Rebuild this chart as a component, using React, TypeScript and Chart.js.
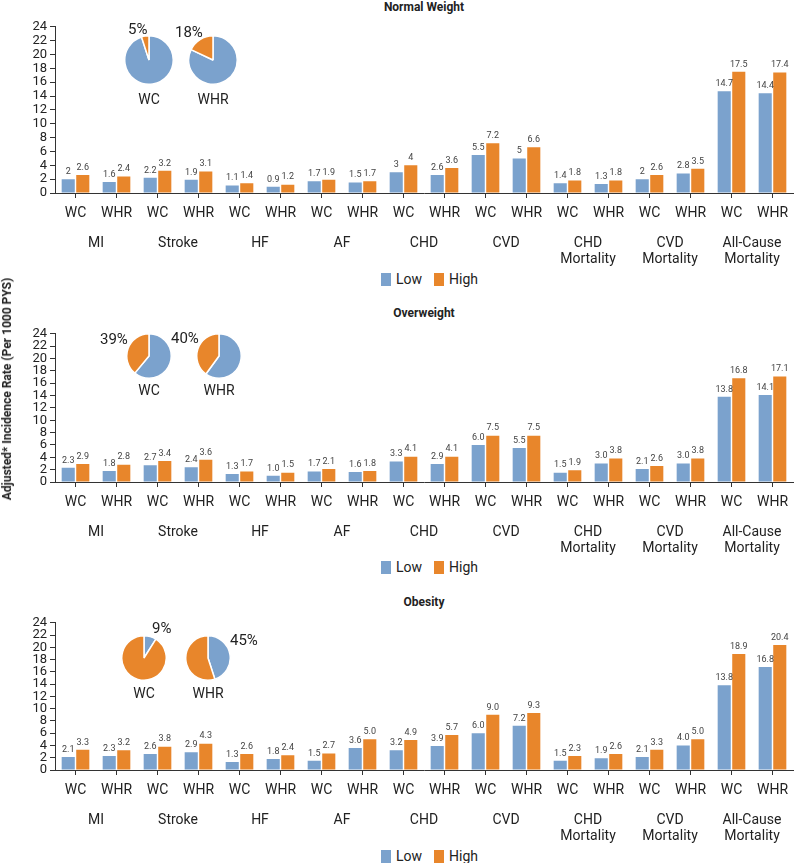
import React, { useEffect, useRef } from "react";
import { Chart, registerables } from "chart.js";
Chart.register(...registerables);

const subLabels = ["WC","WHR","WC","WHR","WC","WHR","WC","WHR","WC","WHR","WC","WHR","WC","WHR","WC","WHR","WC","WHR"];
const groups: (string | string[])[] = ["MI","Stroke","HF","AF","CHD","CVD",["CHD","Mortality"],["CVD","Mortality"],["All-Cause","Mortality"]];
const yTicks = [0,2,4,6,8,10,12,14,16,18,20,22,24];

const normalLow = [2,1.6,2.2,1.9,1.1,0.9,1.7,1.5,3,2.6,5.5,5,1.4,1.3,2,2.8,14.7,14.4];
const normalHigh = [2.6,2.4,3.2,3.1,1.4,1.2,1.9,1.7,4,3.6,7.2,6.6,1.8,1.8,2.6,3.5,17.5,17.4];
const overLow = [2.3,1.8,2.7,2.4,1.3,1.0,1.7,1.6,3.3,2.9,6.0,5.5,1.5,3.0,2.1,3.0,13.8,14.1];
const overHigh = [2.9,2.8,3.4,3.6,1.7,1.5,2.1,1.8,4.1,4.1,7.5,7.5,1.9,3.8,2.6,3.8,16.8,17.1];
const obLow = [2.1,2.3,2.6,2.9,1.3,1.8,1.5,3.6,3.2,3.9,6.0,7.2,1.5,1.9,2.1,4.0,13.8,16.8];
const obHigh = [3.3,3.2,3.8,4.3,2.6,2.4,2.7,5.0,4.9,5.7,9.0,9.3,2.3,2.6,3.3,5.0,18.9,20.4];

// pie shares [Low, High] in percent
const normalWCPie = [95, 5];
const normalWHRPie = [82, 18];
const overWCPie = [61, 39];
const overWHRPie = [60, 40];
const obWCPie = [9, 91];
const obWHRPie = [45, 55];

const BLUE = "#7ba2cd";
const ORANGE = "#e8862b";
const FONT = "Roboto, 'Noto Sans', sans-serif";
const TXT = "#222";

function BarPanel({ low, high, raw, top, height }: { low: number[]; high: number[]; raw: boolean; top: number; height: number }) {
  const ref = useRef<HTMLCanvasElement>(null);
  useEffect(() => {
    const labelsPlugin = {
      id: "vals",
      afterDatasetsDraw(chart: any) {
        const ctx = chart.ctx;
        ctx.save();
        ctx.font = `9px ${FONT}`;
        ctx.fillStyle = "#444";
        ctx.textAlign = "center";
        ctx.textBaseline = "bottom";
        chart.data.datasets.forEach((ds: any, di: number) => {
          chart.getDatasetMeta(di).data.forEach((el: any, i: number) => {
            const v = ds.data[i];
            ctx.fillText(raw ? String(v) : v.toFixed(1), el.x, el.y - 3);
          });
        });
        ctx.restore();
      },
    };
    const c = new Chart(ref.current!, {
      type: "bar",
      data: {
        labels: subLabels,
        datasets: [
          { label: "Low", data: low, backgroundColor: BLUE, categoryPercentage: 0.71, barPercentage: 0.9 },
          { label: "High", data: high, backgroundColor: ORANGE, categoryPercentage: 0.71, barPercentage: 0.9 },
        ],
      },
      options: {
        animation: false,
        responsive: false,
        layout: { padding: { top: 10, right: 7, left: 0, bottom: 0 } },
        plugins: { legend: { display: false }, tooltip: { enabled: false }, title: { display: false } },
        scales: {
          x: {
            grid: { drawOnChartArea: false, drawTicks: true, tickLength: 5, offset: false, color: "#333" },
            border: { color: "#333" },
            ticks: { color: TXT, font: { family: FONT, size: 14 }, padding: 7, maxRotation: 0, autoSkip: false },
            afterFit: (s: any) => { s.height = 28; },
          },
          x2: {
            type: "category",
            labels: groups as any,
            position: "bottom",
            grid: { display: false },
            border: { display: false },
            ticks: { color: TXT, font: { family: FONT, size: 14, lineHeight: 1.15 }, padding: 6, maxRotation: 0, autoSkip: false },
            afterFit: (s: any) => { s.height = 47; },
          },
          y: {
            min: 0, max: 24,
            afterBuildTicks: (s: any) => { s.ticks = yTicks.map((v) => ({ value: v })); },
            grid: { drawOnChartArea: false, drawTicks: true, tickLength: 5, color: "#333" },
            border: { color: "#333" },
            ticks: { color: TXT, font: { family: FONT, size: 13 }, padding: 3, autoSkip: false },
            afterFit: (s: any) => { s.width = 55; },
          },
        },
      } as any,
      plugins: [labelsPlugin],
    });
    return () => c.destroy();
  }, []);
  return <canvas ref={ref} width={800} height={height} style={{ position: "absolute", left: 0, top }} />;
}

function Pie({ data, cx, cy, r }: { data: number[]; cx: number; cy: number; r: number }) {
  const ref = useRef<HTMLCanvasElement>(null);
  useEffect(() => {
    const c = new Chart(ref.current!, {
      type: "pie",
      data: { labels: ["Low", "High"], datasets: [{ data, backgroundColor: [BLUE, ORANGE], borderColor: "#fff", borderWidth: 1.5 }] },
      options: { animation: false, responsive: false, layout: { padding: 1 }, plugins: { legend: { display: false }, tooltip: { enabled: false } } } as any,
    });
    return () => c.destroy();
  }, []);
  const s = 2 * r + 2;
  return <canvas ref={ref} width={s} height={s} style={{ position: "absolute", left: cx - s / 2, top: cy - s / 2 }} />;
}

const T = (props: { x: number; y: number; text: string; size?: number; bold?: boolean; center?: boolean }) => (
  <div style={{ position: "absolute", left: props.x, top: props.y, transform: `translate(${props.center ? "-50%" : "0"}, -50%)`, fontFamily: FONT, fontSize: props.size || 14, fontWeight: props.bold ? 700 : 400, color: TXT, whiteSpace: "nowrap", lineHeight: 1 }}>{props.text}</div>
);

const Legend = ({ y }: { y: number }) => (
  <div style={{ position: "absolute", left: 381, top: y, transform: "translateY(-50%)", display: "flex", alignItems: "center", fontFamily: FONT, fontSize: 14, color: TXT }}>
    <span style={{ width: 10, height: 13, background: BLUE, display: "inline-block", marginRight: 5 }} />
    <span style={{ marginRight: 12 }}>Low</span>
    <span style={{ width: 10, height: 13, background: ORANGE, display: "inline-block", marginRight: 5 }} />
    <span>High</span>
  </div>
);

export default function App() {
  useEffect(() => { document.body.style.margin = "0"; }, []);
  return (
    <div style={{ position: "relative", width: 800, height: 863, background: "#fff", overflow: "hidden" }}>
      <T x={424} y={7} text="Normal Weight" size={12} bold center />
      <BarPanel low={normalLow} high={normalHigh} raw={true} top={16} height={252} />
      <Pie data={normalWCPie} cx={149} cy={60} r={25} />
      <Pie data={normalWHRPie} cx={213} cy={60} r={25} />
      <T x={149} y={99} text="WC" center />
      <T x={213} y={99} text="WHR" center />
      <T x={128} y={29} text="5%" size={15} />
      <T x={175} y={32} text="18%" size={15} />
      <Legend y={279} />

      <T x={424} y={313} text="Overweight" size={12} bold center />
      <BarPanel low={overLow} high={overHigh} raw={false} top={323} height={234} />
      <Pie data={overWCPie} cx={149} cy={356} r={23} />
      <Pie data={overWHRPie} cx={219} cy={356} r={23} />
      <T x={149} y={390} text="WC" center />
      <T x={219} y={390} text="WHR" center />
      <T x={100} y={339} text="39%" size={15} />
      <T x={171} y={338} text="40%" size={15} />
      <Legend y={567} />

      <T x={424} y={602} text="Obesity" size={12} bold center />
      <BarPanel low={obLow} high={obHigh} raw={false} top={612} height={233} />
      <Pie data={obWCPie} cx={144} cy={658} r={23} />
      <Pie data={obWHRPie} cx={208} cy={658} r={23} />
      <T x={144} y={693} text="WC" center />
      <T x={208} y={693} text="WHR" center />
      <T x={152} y={628} text="9%" size={15} />
      <T x={230} y={640} text="45%" size={15} />
      <Legend y={856} />

      <div style={{ position: "absolute", left: 7, top: 389, transform: "translate(-50%, -50%) rotate(-90deg)", fontFamily: FONT, fontSize: 12, fontWeight: 700, color: TXT, whiteSpace: "nowrap" }}>
        Adjusted* Incidence Rate (Per 1000 PYS)
      </div>
    </div>
  );
}
